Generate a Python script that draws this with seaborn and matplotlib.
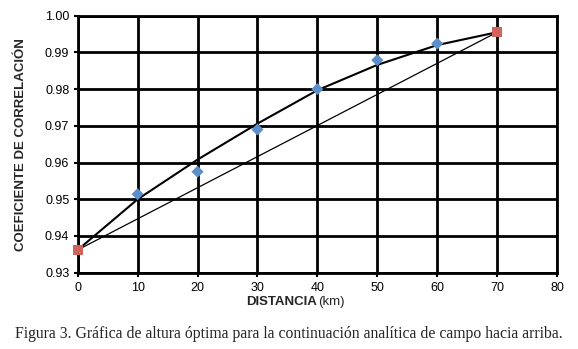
import numpy as np
import pandas as pd
import matplotlib
matplotlib.use('Agg')
import matplotlib.pyplot as plt
import seaborn as sns

# valores
dist_pts = [10, 20, 30, 40, 50, 60]
corr_pts = [0.9514, 0.9575, 0.9690, 0.9800, 0.9879, 0.9924]
dist_ends = [0, 70]
corr_ends = [0.9362, 0.9955]
dist_curve = [0, 10, 20, 30, 40, 50, 60, 70]
corr_curve = [0.9362, 0.9500, 0.9608, 0.9706, 0.9797, 0.9866, 0.9920, 0.9955]

sns.set_style('white')
plt.rcParams['font.family'] = ['Liberation Sans', 'DejaVu Sans']

fig = plt.figure(figsize=(5.78, 3.49), dpi=100)
ax = fig.add_axes([0.1344, 0.2186, 0.8293, 0.7364])

curve = pd.DataFrame({'dist': dist_curve, 'corr': corr_curve})
sns.lineplot(data=curve, x='dist', y='corr', color='black', lw=1.5, ax=ax, zorder=3)
sns.lineplot(x=dist_ends, y=corr_ends, color='black', lw=0.9, ax=ax, zorder=3)
sns.scatterplot(x=dist_pts, y=corr_pts, marker='D', s=38, color='#5b8fc9',
                edgecolor='none', ax=ax, zorder=4)
sns.scatterplot(x=dist_ends, y=corr_ends, marker='s', s=55, color='#cf645c',
                edgecolor='none', ax=ax, zorder=5)
for c in ax.collections:
    c.set_clip_on(False)

ax.set_xlim(0, 80)
ax.set_ylim(0.93, 1.00)
ax.set_xticks(np.arange(0, 81, 10))
ax.set_yticks(np.arange(0.93, 1.001, 0.01))
ax.set_yticklabels(['%.2f' % v for v in np.arange(0.93, 1.001, 0.01)])
ax.grid(True, color='black', lw=2)
for s in ax.spines.values():
    s.set_color('black')
    s.set_linewidth(2)
ax.tick_params(axis='both', labelsize=9, colors='black', length=3, width=1.5,
               direction='out', left=True, bottom=True)
ax.tick_params(axis='x', pad=4)
ax.tick_params(axis='y', pad=3)

ax.set_xlabel('')
ax.set_ylabel('')
fig.text(0.036, 0.587, 'COEFICIENTE DE CORRELACIÓN', rotation=90, ha='center',
         va='center', fontsize=9.5, fontweight='bold')
fig.text(0.548, 0.135, 'DISTANCIA', ha='right', va='center', fontsize=9.5,
         fontweight='bold')
fig.text(0.551, 0.135, '(km)', ha='left', va='center', fontsize=9.5)
fig.text(0.5, 0.042, 'Figura 3. Gráfica de altura óptima para la continuación '
         'analítica de campo hacia arriba.', ha='center', va='center',
         fontsize=11.3, family=['Liberation Serif', 'DejaVu Serif'])

fig.savefig('out.png', dpi=100)
